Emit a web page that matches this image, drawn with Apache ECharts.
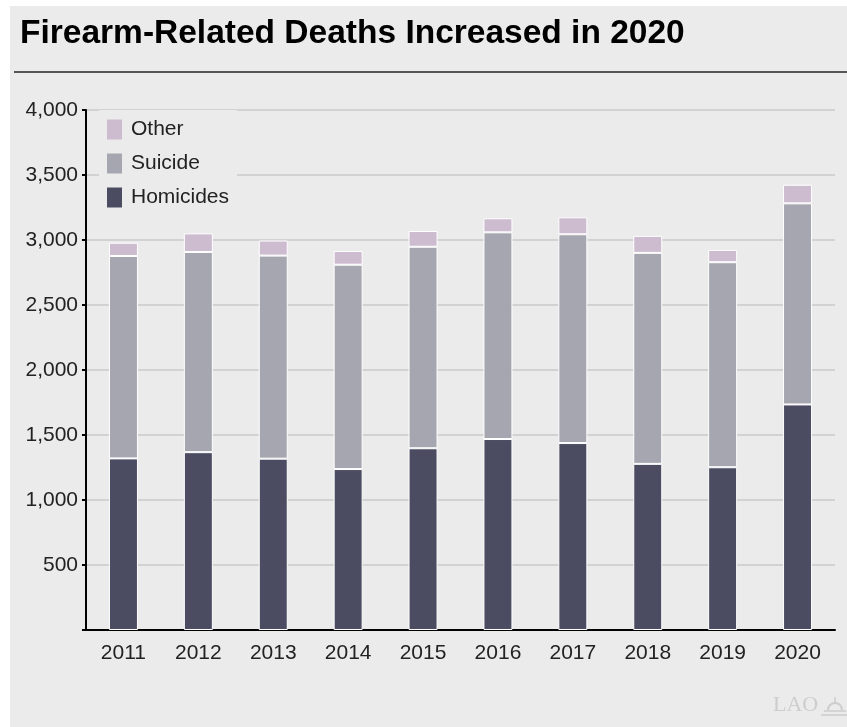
<!DOCTYPE html>
<html><head><meta charset="utf-8">
<script src="https://cdn.jsdelivr.net/npm/echarts@6/dist/echarts.min.js"></script>
<style>html,body{margin:0;padding:0;background:#fff}#c{width:847px;height:727px}</style>
</head><body><div id="c"></div>
<script>
var years = ['2011','2012','2013','2014','2015','2016','2017','2018','2019','2020'];
var homicides = [1320, 1368, 1318, 1238, 1398, 1469, 1438, 1278, 1252, 1735];
var suicide   = [1557, 1540, 1562, 1572, 1550, 1590, 1606, 1623, 1577, 1547];
var other     = [102, 143, 116, 105, 121, 108, 131, 131, 95, 143];
var yTicks = [0, 500, 1000, 1500, 2000, 2500, 3000, 3500, 4000];

var FONT = 'Liberation Sans, Arial, sans-serif';
var LOGO = '#cdcdcd';
var chart = echarts.init(document.getElementById('c'));
chart.setOption({
  animation: false,
  backgroundColor: '#ffffff',
  graphic: [
    {type:'rect', z:-10, shape:{x:10,y:6,width:837,height:721}, style:{fill:'#ebebeb'}},
    {type:'text', left:20, top:17, style:{text:'Firearm-Related Deaths Increased in 2020', font:'bold 33.5px '+FONT, fill:'#000'}},
    {type:'line', shape:{x1:14,y1:72,x2:847,y2:72}, style:{stroke:'#555',lineWidth:2}},
    {type:'text', left:773, top:694, style:{text:'LAO', font:'22px Liberation Serif, serif', fill:LOGO}},
    {type:'arc', shape:{cx:835,cy:710,r:7,startAngle:Math.PI,endAngle:2*Math.PI}, style:{stroke:LOGO,lineWidth:2,fill:null}},
    {type:'line', shape:{x1:824,y1:711,x2:846,y2:711}, style:{stroke:LOGO,lineWidth:1.5}},
    {type:'line', shape:{x1:821,y1:715,x2:847,y2:715}, style:{stroke:LOGO,lineWidth:1.5}},
    {type:'line', shape:{x1:835,y1:697,x2:835,y2:703}, style:{stroke:LOGO,lineWidth:1.5}}
  ],
  legend: {
    orient:'vertical', left:99, top:110, padding:[9,8,9,8], itemGap:13,
    itemWidth:15, itemHeight:20, backgroundColor:'#ebebeb',
    data:['Other','Suicide','Homicides'],
    itemStyle:{borderWidth:0},
    textStyle:{fontSize:21, color:'#222', fontFamily:FONT, padding:[0,0,0,4]},
    icon:'rect'
  },
  grid: {left:86, right:12, top:110, bottom:97},
  xAxis: {
    type:'category', data:years,
    axisLine:{lineStyle:{color:'#000',width:2}},
    axisTick:{show:false},
    axisLabel:{fontSize:21, color:'#222', margin:13, fontFamily:FONT}
  },
  yAxis: {
    type:'value', min:yTicks[0], max:yTicks[yTicks.length-1], interval:500,
    axisLine:{show:true, lineStyle:{color:'#000',width:2}},
    axisTick:{show:true, length:4, lineStyle:{color:'#000',width:2}},
    splitLine:{lineStyle:{color:'#d2d2d2',width:2}},
    axisLabel:{fontSize:21, color:'#222', margin:8, fontFamily:FONT,
      formatter:function(v){return v===0?'':v.toLocaleString('en-US');}}
  },
  series: [
    {name:'Homicides', type:'bar', stack:'t', data:homicides, barWidth:29,
     itemStyle:{color:'#4b4c61', borderColor:'#fff', borderWidth:1}},
    {name:'Suicide', type:'bar', stack:'t', data:suicide, barWidth:29,
     itemStyle:{color:'#a6a6b0', borderColor:'#fff', borderWidth:1}},
    {name:'Other', type:'bar', stack:'t', data:other, barWidth:29,
     itemStyle:{color:'#cdbbcf', borderColor:'#fff', borderWidth:1}}
  ]
});
</script></body></html>
